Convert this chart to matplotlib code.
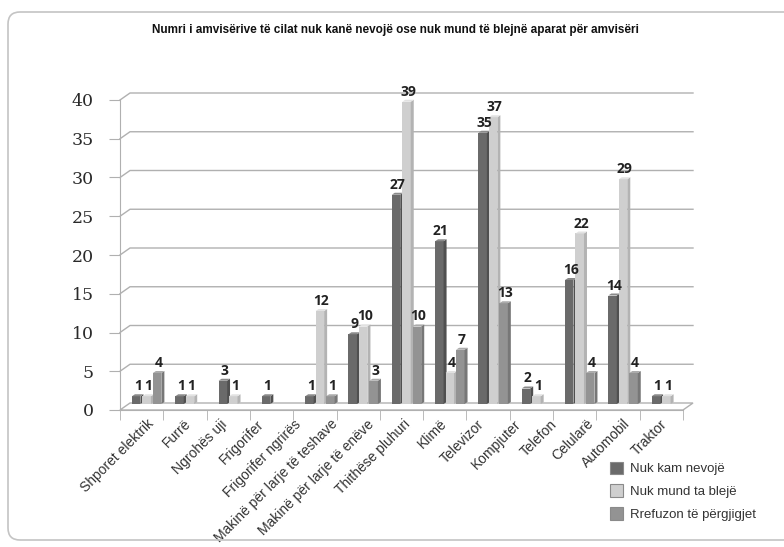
import numpy as np
import matplotlib.pyplot as plt
from matplotlib.patches import Polygon, Patch, FancyBboxPatch
from matplotlib.transforms import IdentityTransform

title = "Numri i amvisërive të cilat nuk kanë nevojë ose nuk mund të blejnë aparat për amvisëri"
categories = ["Shporet elektrik", "Furrë", "Ngrohës uji", "Frigorifer", "Frigorifer ngrirës",
              "Makinë për larje të teshave", "Makinë për larje të enëve", "Thithëse pluhuri",
              "Klimë", "Televizor", "Kompjuter", "Telefon", "Celularë", "Automobil", "Traktor"]
series_names = ["Nuk kam nevojë", "Nuk mund ta blejë", "Rrefuzon të përgjigjet"]
# 13 bar groups are drawn in the source chart (15 labels under them)
nuk_kam_nevoje = [1, 1, 3, 1, 1, 9, 27, 21, 35, 2, 16, 14, 1]
nuk_mund_ta_bleje = [1, 1, 1, 0, 12, 10, 39, 4, 37, 1, 22, 29, 1]
refuzon = [4, 0, 0, 0, 1, 3, 10, 7, 13, 0, 4, 4, 0]
yticks = list(range(0, 41, 5))

# front / side / top shades for each series
shades = [("#6a6a6a", "#505050", "#8a8a8a"),
          ("#cfcfcf", "#b3b3b3", "#e2e2e2"),
          ("#939393", "#777777", "#ababab")]
wall = "#b0b0b0"

fig = plt.figure(figsize=(7.84, 5.47), dpi=100)
ax = fig.add_axes([120 / 784, 137 / 547, 563 / 784, 310 / 547])
ngroups = len(nuk_kam_nevoje)
ax.set_xlim(-0.5, ngroups - 0.5)
ax.set_ylim(0, 40)

ux, uy = 563 / ngroups, 310 / 40   # pixels per data unit


def px(dx, dy):
    return dx / ux, dy / uy


back = px(10, 7)    # back wall offset
mid = px(5, 6)      # plane where the bars stand
depth = px(3, 2)    # bar depth

# floor and back wall grid
floor = Polygon([(-0.5, 0), (ngroups - 0.5, 0), (ngroups - 0.5 + back[0], back[1]),
                 (-0.5 + back[0], back[1])], closed=True, facecolor="white",
                edgecolor=wall, lw=1, clip_on=False, zorder=1)
ax.add_patch(floor)
for v in yticks[1:]:
    ax.plot([-0.5, -0.5 + back[0], ngroups - 0.5 + back[0]],
            [v, v + back[1], v + back[1]], color=wall, lw=1, clip_on=False, zorder=1)

# bars
offsets = [-0.242, 0.0, 0.242]
w = 0.196
for k, vals in enumerate([nuk_kam_nevoje, nuk_mund_ta_bleje, refuzon]):
    front, side, top = shades[k]
    xs = np.arange(ngroups) + offsets[k] + mid[0]
    ax.bar(xs, vals, width=w, bottom=mid[1], color=front, zorder=3, clip_on=False)
    for x, v in zip(xs, vals):
        if v == 0:
            continue
        b = mid[1]
        x0, x1 = x - w / 2, x + w / 2
        ax.add_patch(Polygon([(x1, b), (x1, b + v), (x1 + depth[0], b + v + depth[1]),
                              (x1 + depth[0], b + depth[1])], closed=True,
                             facecolor=side, lw=0, zorder=3, clip_on=False))
        ax.add_patch(Polygon([(x0, b + v), (x1, b + v), (x1 + depth[0], b + v + depth[1]),
                              (x0 + depth[0], b + v + depth[1])], closed=True,
                             facecolor=top, lw=0, zorder=3, clip_on=False))
        ax.text(x + depth[0] / 2, b + v + depth[1] + px(0, 1)[1], str(v),
                ha="center", va="bottom", fontsize=10, fontweight="bold",
                family="Open Sans", color="#222222", zorder=4)

# axes styling
for s in ["top", "right"]:
    ax.spines[s].set_visible(False)
ax.spines["left"].set_color(wall)
ax.spines["bottom"].set_color(wall)
ax.set_yticks(yticks)
ax.tick_params(axis="y", direction="out", length=8, color=wall, pad=11,
               labelsize=12.5, labelcolor="#2a2a2a")
for lab in ax.get_yticklabels():
    lab.set_family("DejaVu Serif")

ax.set_xticks(np.arange(-0.5, ngroups, 1.0), minor=True)
ax.set_xticks(np.linspace(0.12, 11.97, len(categories)))
ax.set_xticklabels(categories, rotation=45, ha="right", rotation_mode="anchor",
                   fontsize=10, color="#333333", family="Liberation Sans")
ax.tick_params(axis="x", which="major", length=0, pad=5)
ax.tick_params(axis="x", which="minor", direction="out", length=7, color=wall)

# legend
handles = [Patch(facecolor=shades[k][0], edgecolor="#8a8a8a", lw=0.8) for k in range(3)]
ax.legend(handles, series_names, loc="upper left", bbox_to_anchor=(603 / 784, 1 - 455 / 547),
          bbox_transform=fig.transFigure, frameon=False, borderpad=0,
          prop={"family": "Liberation Sans", "size": 9.5}, labelcolor="#333333",
          handlelength=1.05, handleheight=1.05, labelspacing=0.7, handletextpad=0.5)

fig.text(0.505, 1 - 30 / 547, title, ha="center", va="center", fontsize=8.5,
         fontweight="bold", family="Liberation Sans", color="#111111")

border = FancyBboxPatch((8, 7), 800, 528, boxstyle="round,pad=0,rounding_size=12",
                        transform=IdentityTransform(), facecolor="none",
                        edgecolor="#c4c4c4", lw=1.2)
fig.patches.append(border)

fig.savefig("out.png", dpi=100)
